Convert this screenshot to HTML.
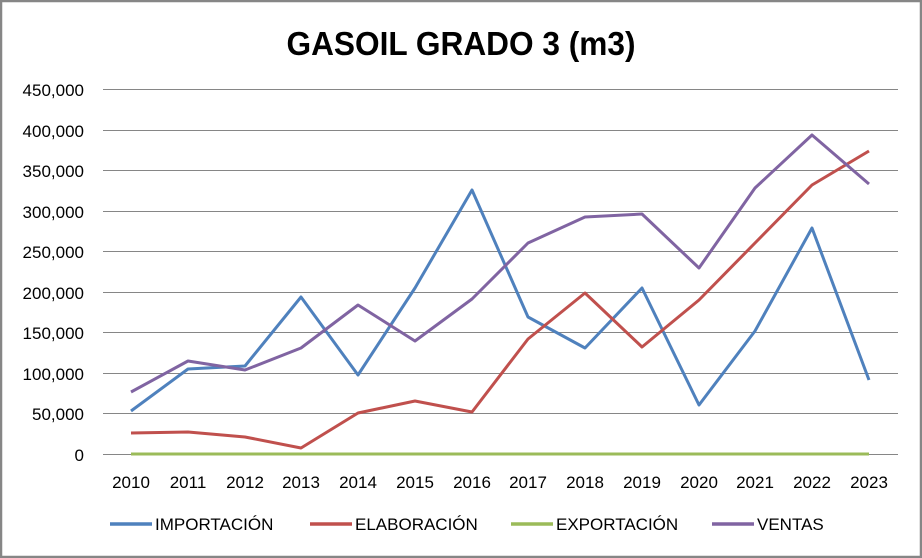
<!DOCTYPE html><html><head><style>body{margin:0;background:#fff}svg{display:block;font-family:"Liberation Sans",sans-serif}</style></head><body>
<svg width="922" height="558" xmlns="http://www.w3.org/2000/svg">
<rect x="1" y="1" width="920" height="556" fill="#fff" stroke="#868686" stroke-width="2.5"/>
<text x="461" y="55" text-anchor="middle" font-size="33" font-weight="bold" textLength="349" lengthAdjust="spacingAndGlyphs">GASOIL GRADO 3 (m3)</text>
<g stroke="#868686" stroke-width="1">
<line x1="103" x2="898" y1="89.5" y2="89.5"/><line x1="103" x2="898" y1="130.5" y2="130.5"/><line x1="103" x2="898" y1="170.5" y2="170.5"/><line x1="103" x2="898" y1="211.5" y2="211.5"/><line x1="103" x2="898" y1="251.5" y2="251.5"/><line x1="103" x2="898" y1="292.5" y2="292.5"/><line x1="103" x2="898" y1="332.5" y2="332.5"/><line x1="103" x2="898" y1="373.5" y2="373.5"/><line x1="103" x2="898" y1="413.5" y2="413.5"/><line x1="103" x2="898" y1="454.5" y2="454.5"/>
</g>
<g font-size="17" text-anchor="end">
<text x="84" y="96">450,000</text><text x="84" y="137">400,000</text><text x="84" y="177">350,000</text><text x="84" y="218">300,000</text><text x="84" y="258">250,000</text><text x="84" y="299">200,000</text><text x="84" y="339">150,000</text><text x="84" y="380">100,000</text><text x="84" y="420">50,000</text><text x="84" y="461">0</text>
</g>
<g font-size="17" text-anchor="middle">
<text x="131" y="488">2010</text><text x="188" y="488">2011</text><text x="245" y="488">2012</text><text x="301" y="488">2013</text><text x="358" y="488">2014</text><text x="415" y="488">2015</text><text x="472" y="488">2016</text><text x="528" y="488">2017</text><text x="585" y="488">2018</text><text x="642" y="488">2019</text><text x="699" y="488">2020</text><text x="755" y="488">2021</text><text x="812" y="488">2022</text><text x="869" y="488">2023</text>
</g>
<g fill="none" stroke-width="3" stroke-linejoin="round">
<polyline stroke="#9bbb59" points="131,454 869,454"/>
<polyline stroke="#4f81bd" points="131,411 188,369 245,366 301,297 358,375 415,288 472,190 528,317 585,348 642,288 699,405 755,331 812,228 869,380"/>
<polyline stroke="#c0504d" points="131,433 188,432 245,437 301,448 358,413 415,401 472,412 528,339 585,293 642,347 699,300 755,243 812,185 869,151"/>
<polyline stroke="#8064a2" points="131,392 188,361 245,370 301,348 358,305 415,341 472,299 528,243 585,217 642,214 699,268 755,188 812,135 869,184"/>
</g>
<g stroke-width="3.5">
<line x1="110" x2="152" y1="524" y2="524" stroke="#4f81bd"/>
<line x1="310" x2="352" y1="524" y2="524" stroke="#c0504d"/>
<line x1="511" x2="553" y1="524" y2="524" stroke="#9bbb59"/>
<line x1="712" x2="754" y1="524" y2="524" stroke="#8064a2"/>
</g>
<g font-size="17">
<text x="155" y="530">IMPORTACIÓN</text><text x="355" y="530">ELABORACIÓN</text><text x="556" y="530">EXPORTACIÓN</text><text x="757" y="530">VENTAS</text>
</g>
</svg></body></html>
